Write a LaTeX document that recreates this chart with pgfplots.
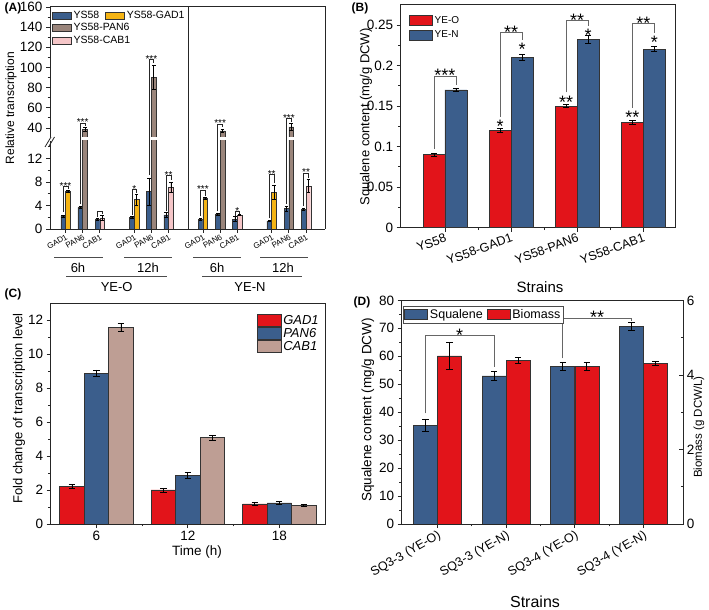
\documentclass[border=0pt]{standalone}
\usepackage{fontspec}
\setmainfont{Liberation Sans}
\usepackage{pgfplots}
\pgfplotsset{compat=1.18}
\definecolor{cblue}{RGB}{59,94,140}
\definecolor{cred}{RGB}{226,20,26}
\definecolor{cyel}{RGB}{245,180,20}
\definecolor{cbrA}{RGB}{154,133,123}
\definecolor{cpink}{RGB}{245,198,200}
\definecolor{cbrC}{RGB}{190,158,148}
\newcommand\fs[1]{\fontsize{#1}{#1}\selectfont}
\newcommand\brk[7]{\draw[brk] (axis cs:#1,#4) |- (axis cs:#2,#5) -- (axis cs:#2,#6); \node[stars] at (axis cs:#3,#5) {#7};}
\pgfplotsset{
  base/.style={scale only axis, anchor=south west, font=\fs{13}, tick align=outside,
    /pgf/number format/assume math mode=true,
    tick label style={font=\fs{13.5}},
    axis line style={black!85, line width=0.8pt},
    every tick/.style={black!85, line width=0.8pt},
    major tick length=4pt, minor tick length=2.5pt,
    clip mode=individual},
  eb/.style={error bars/.cd, y dir=both, y explicit, error mark=-,
    error bar style={line width=0.8pt, black},
    error mark options={rotate=90, line width=0.8pt, black, mark size=3.2pt}},
  ebA/.style={error bars/.cd, y dir=both, y explicit, error mark=-,
    error bar style={line width=0.6pt, black},
    error mark options={rotate=90, line width=0.6pt, black, mark size=1.8pt}},
}
\begin{document}
\begin{tikzpicture}[x=1pt,y=1pt]
\useasboundingbox (0pt,0pt) rectangle (709pt,610pt);
% ================= Panel A =================
\begin{scope}[stars/.style={font=\fs{10}, inner sep=0pt, anchor=south, yshift=-2.9pt},
  brk/.style={black!85, line width=0.6pt}]
\begin{axis}[base, name=Alow, at={(50pt,381pt)}, width=275pt, height=88pt,
  xmin=-0.902, xmax=15.105, ymin=0, ymax=15,
  axis x line*=bottom, axis y line*=left,
  ytick={0,4,8,12}, minor ytick={2,6,10,14},
  xtick={0,1,2,4,5,6,8,9,10,12,13,14},
  xticklabels={GAD1,PAN6,CAB1,GAD1,PAN6,CAB1,GAD1,PAN6,CAB1,GAD1,PAN6,CAB1},
  xticklabel style={rotate=30, anchor=north east, font=\fs{8}, inner sep=0.5pt},
  legend columns=2,
  legend image code/.code={\draw[#1, line width=0.5pt] (0pt,-3.5pt) rectangle (19pt,3.5pt);},
  legend style={at={(axis description cs:0.007,2.50)}, anchor=north west, draw=none, fill=none,
    font=\fs{10.5}, inner sep=0pt, /tikz/every even column/.append style={column sep=4pt}},
  legend cell align=left]
\addlegendimage{fill=cblue, draw=black!80}
\addlegendentry{YS58}
\addlegendimage{fill=cyel, draw=black!80}
\addlegendentry{YS58-GAD1}
\addplot[ybar, bar width=4.7pt, bar shift=0pt, fill=cblue, draw=black!80, line width=0.4pt, forget plot, ebA]
  table[x=x, y=y, y error=e]{
x y e
-0.137 2.2 0.2
0.863 3.7 0.1
1.863 1.65 0.15
3.863 2.0 0.1
4.863 6.4 2.3
5.863 2.4 0.4
7.863 1.7 0.15
8.863 2.5 0.2
9.863 1.7 0.4
11.863 1.35 0.1
12.863 3.5 0.4
13.863 3.4 0.15
};
\addplot[ybar, bar width=4.7pt, bar shift=0pt, fill=cyel, draw=black!80, line width=0.4pt, forget plot, ebA]
  table[x=x, y=y, y error=e]{
x y e
0.137 6.4 0.2
4.137 5.0 0.9
8.137 5.2 0.15
12.137 6.3 1.2
};
\addplot[ybar, bar width=4.7pt, bar shift=0pt, fill=cbrA, draw=black!80, line width=0.4pt, forget plot]
  table[x=x, y=y]{
x y
1.137 38.5
5.137 90
9.137 37
13.137 41
};
\addplot[ybar, bar width=4.7pt, bar shift=0pt, fill=cpink, draw=black!80, line width=0.4pt, forget plot, ebA]
  table[x=x, y=y, y error=e]{
x y e
2.137 1.9 0.5
6.137 7.1 0.9
10.137 2.35 0.1
14.137 7.3 1.1
};
\brk{-0.137}{0.137}{0}{2.9}{7.2}{6.8}{***}
\brk{1.863}{2.137}{2}{2.0}{3.1}{2.6}{}
\brk{3.863}{4.137}{4}{2.4}{6.75}{6.1}{*}
\brk{5.863}{6.137}{6}{3.0}{9.1}{8.3}{**}
\brk{7.863}{8.137}{8}{2.2}{6.6}{5.7}{***}
\brk{9.863}{10.137}{10}{2.3}{3.0}{2.6}{*}
\brk{11.863}{12.137}{12}{1.8}{9.3}{7.8}{**}
\brk{13.863}{14.137}{14}{3.9}{9.5}{8.7}{**}
\draw[brk] (axis cs:0.863,4.2) -- (axis cs:0.863,15);
\draw[brk] (axis cs:4.863,9.2) -- (axis cs:4.863,15);
\draw[brk] (axis cs:8.863,3.0) -- (axis cs:8.863,15);
\draw[brk] (axis cs:12.863,4.3) -- (axis cs:12.863,15);
\coordinate (dvA) at (axis cs:7.13,0);
\end{axis}
\begin{axis}[base, name=Aup, at={(50pt,473pt)}, width=275pt, height=131pt,
  xmin=-0.902, xmax=15.105, ymin=31, ymax=161,
  axis y line*=left, axis x line=none,
  ytick={40,60,80,100,120,140,160}, minor ytick={50,70,90,110,130,150},
  legend image code/.code={\draw[#1, line width=0.5pt] (0pt,-3.5pt) rectangle (19pt,3.5pt);},
  legend style={at={(axis description cs:0.007,0.885)}, anchor=north west, draw=none, fill=none,
    font=\fs{10.5}, inner sep=0pt},
  legend cell align=left]
\addlegendimage{fill=cbrA, draw=black!80}
\addlegendentry{YS58-PAN6}
\addlegendimage{fill=cpink, draw=black!80}
\addlegendentry{YS58-CAB1}
\addplot[ybar, bar width=4.7pt, bar shift=0pt, fill=cbrA, draw=black!80, line width=0.4pt, forget plot, ebA]
  table[x=x, y=y, y error=e]{
x y e
1.137 38.5 2
5.137 90 12
9.137 37 1.5
13.137 41 3.5
};
\brk{0.863}{1.137}{1}{25}{45}{42}{***}
\brk{4.863}{5.137}{5}{25}{108}{104}{***}
\brk{8.863}{9.137}{9}{25}{44}{41}{***}
\brk{12.863}{13.137}{13}{25}{49.5}{46}{***}
\coordinate (dvB) at (axis cs:7.13,161);
\end{axis}
\end{scope}
\draw[black!85, line width=0.8pt] (Alow.south east) -- (Aup.north east) -- (Aup.north west);
\draw[black!85, line width=0.8pt] (dvA) -- (dvB);
\fill[white] (44,469.6) rectangle (56,472.4);
\draw[black!85, line width=0.8pt] (45,463) -- (51,473) (48.5,463) -- (54.5,473);
\node[rotate=90, font=\fs{12}] at (11,502) {Relative transcription};
\begin{scope}[black!70, line width=0.8pt]
\draw (54,352.7) -- (103,352.7) (124,352.7) -- (172,352.7) (193,352.7) -- (241,352.7) (260,352.7) -- (308,352.7);
\draw (66,333.3) -- (167,333.3) (202,333.3) -- (302,333.3);
\end{scope}
\begin{scope}[font=\fs{13}]
\node at (78,342) {6h}; \node at (148,342) {12h};
\node at (217,342) {6h}; \node at (283,342) {12h};
\node at (116.7,323.3) {YE-O}; \node at (250,323.3) {YE-N};
\end{scope}
% ================= Panel B =================
\begin{scope}[stars/.style={font=\fs{18}, inner sep=0pt, anchor=south, yshift=-5.9pt},
  star1/.style={font=\fs{18}, inner sep=0pt, anchor=north},
  brk/.style={black!60, line width=0.8pt}]
\begin{axis}[base, at={(400.7pt,382.3pt)}, width=274.3pt, height=223.7pt,
  xmin=-0.67, xmax=3.48, ymin=0, ymax=0.2759,
  xtick={0,1,2,3}, minor xtick={0.5,1.5,2.5},
  xticklabels={YS58,YS58-GAD1,YS58-PAN6,YS58-CAB1},
  xticklabel style={rotate=20, anchor=north east, font=\fs{12.5}, inner sep=1pt},
  ytick={0,0.05,0.1,0.15,0.2,0.25}, yticklabels={0,0.05,0.1,0.15,0.2,0.25},
  minor ytick={0.025,0.075,0.125,0.175,0.225},
  xtick pos=bottom, ytick pos=left,
  legend image code/.code={\draw[#1, line width=0.6pt] (0pt,-5pt) rectangle (23pt,5pt);},
  legend style={at={(axis description cs:0.030,0.955)}, anchor=north west, draw=none, fill=none,
    font=\fs{10}, inner sep=0pt, row sep=2pt},
  legend cell align=left]
\addplot[ybar, bar width=22pt, bar shift=0pt, fill=cred, draw=black!80, line width=0.6pt, eb]
  table[x=x, y=y, y error=e]{
x y e
-0.166 0.090 0.002
0.834 0.120 0.002
1.834 0.150 0.002
2.834 0.130 0.002
};
\addlegendentry{YE-O}
\addplot[ybar, bar width=22pt, bar shift=0pt, fill=cblue, draw=black!80, line width=0.6pt, eb]
  table[x=x, y=y, y error=e]{
x y e
0.166 0.170 0.002
1.166 0.210 0.004
2.166 0.232 0.005
3.166 0.220 0.003
};
\addlegendentry{YE-N}
\brk{-0.166}{0.166}{0}{0.097}{0.187}{0.176}{***}
\brk{0.834}{1.166}{1}{0.137}{0.2407}{0.2317}{**}
\brk{1.834}{2.166}{2}{0.167}{0.2555}{0.249}{**}
\brk{2.834}{3.166}{3}{0.148}{0.2514}{0.240}{**}
\node[star1] at (axis cs:0.834,0.133) {*};
\node[star1] at (axis cs:1.166,0.2276) {*};
\node[star1] at (axis cs:1.834,0.162) {**};
\node[star1] at (axis cs:2.166,0.245) {*};
\node[star1] at (axis cs:2.834,0.144) {**};
\node[star1] at (axis cs:3.166,0.236) {*};
\end{axis}
\end{scope}
\node[rotate=90, font=\fs{13}] at (366,493) {Squalene content (mg/g DCW)};
\node[font=\fs{15}] at (540,323.3) {Strains};
% ================= Panel C =================
\begin{axis}[base, at={(50.7pt,86pt)}, width=274.3pt, height=221pt,
  xmin=3, xmax=21, ymin=0, ymax=13,
  xtick={6,12,18}, minor xtick={9,15},
  ytick={0,2,4,6,8,10,12}, minor ytick={1,3,5,7,9,11},
  xtick pos=bottom, ytick pos=left,
  legend image code/.code={\draw[#1, line width=0.6pt] (0pt,-6pt) rectangle (24pt,6pt);},
  legend style={at={(axis description cs:0.985,0.955)}, anchor=north east, draw=none, fill=none,
    font=\fs{13}\itshape, inner sep=0pt, row sep=-1.5pt},
  legend cell align=left]
\addplot[ybar, bar width=24.5pt, bar shift=0pt, fill=cred, draw=black!80, line width=0.6pt, eb]
  table[x=x, y=y, y error=e]{
x y e
4.392 2.22 0.12
10.392 2.0 0.12
16.392 1.18 0.08
};
\addlegendentry{GAD1}
\addplot[ybar, bar width=24.5pt, bar shift=0pt, fill=cblue, draw=black!80, line width=0.6pt, eb]
  table[x=x, y=y, y error=e]{
x y e
6 8.88 0.18
12 2.86 0.18
18 1.24 0.1
};
\addlegendentry{PAN6}
\addplot[ybar, bar width=24.5pt, bar shift=0pt, fill=cbrC, draw=black!80, line width=0.6pt, eb]
  table[x=x, y=y, y error=e]{
x y e
7.608 11.57 0.25
13.608 5.08 0.15
19.608 1.08 0.05
};
\addlegendentry{CAB1}
\end{axis}
\node[rotate=90, font=\fs{13}] at (19,201.5) {Fold change of transcription level};
\node[font=\fs{13.5}] at (197,58) {Time (h)};
% ================= Panel D =================
\begin{scope}[stars/.style={font=\fs{18}, inner sep=0pt, anchor=south, yshift=-5.9pt},
  brk/.style={black!60, line width=0.8pt}]
\begin{axis}[base, at={(401.7pt,86pt)}, width=281.6pt, height=223.6pt,
  xmin=-0.52, xmax=3.58, ymin=0, ymax=80,
  xtick={0,1,2,3}, minor xtick={0.5,1.5,2.5},
  xticklabels={SQ3-3 (YE-O),SQ3-3 (YE-N),SQ3-4 (YE-O),SQ3-4 (YE-N)},
  xticklabel style={rotate=30, anchor=north east, font=\fs{12.5}, inner sep=1pt},
  ytick={0,10,20,30,40,50,60,70,80}, minor ytick={5,15,25,35,45,55,65,75},
  xtick pos=bottom, ytick pos=left]
\addplot[ybar, bar width=24pt, bar shift=0pt, fill=cblue, draw=black!80, line width=0.6pt, eb]
  table[x=x, y=y, y error=e]{
x y e
-0.175 35.4 2.2
0.825 53.0 1.6
1.825 56.4 1.5
2.825 70.6 1.4
};
\brk{-0.175}{0.825}{0.325}{39.6}{67.4}{56.3}{*}
\brk{1.825}{2.825}{2.325}{59.3}{73.6}{72.5}{**}
\end{axis}
\begin{axis}[base, at={(401.7pt,86pt)}, width=281.6pt, height=223.6pt,
  xmin=-0.52, xmax=3.58, ymin=0, ymax=6,
  axis y line*=right, axis x line=none, tick align=inside,
  ytick={0,2,4,6}, minor ytick={1,3,5},
  legend columns=2,
  legend image code/.code={\draw[#1, line width=0.6pt] (0pt,-5pt) rectangle (23pt,5pt);},
  legend style={at={(axis description cs:0.005,0.975)}, anchor=north west, draw=black!70, line width=0.5pt,
    fill=white, font=\fs{12.5}, inner sep=1pt, /tikz/every even column/.append style={column sep=2pt}},
  legend cell align=left]
\addlegendimage{fill=cblue, draw=black!80}
\addlegendentry{Squalene}
\addplot[ybar, bar width=24pt, bar shift=0pt, fill=cred, draw=black!80, line width=0.6pt, eb]
  table[x=x, y=y, y error=e]{
x y e
0.175 4.51 0.37
1.175 4.39 0.09
2.175 4.23 0.1
3.175 4.31 0.06
};
\addlegendentry{Biomass}
\end{axis}
\end{scope}
\node[rotate=90, font=\fs{13.5}] at (368,200) {Squalene content (mg/g DCW)};
\node[rotate=90, font=\fs{11.5}] at (699,183) {Biomass (g DCW/L)};
\node[font=\fs{16}] at (535,8) {Strains};
% panel letters
\begin{scope}[font=\fs{12}\bfseries]
\node at (13,602) {(A)};
\node at (360,602) {(B)};
\node at (13,316) {(C)};
\node at (362,308) {(D)};
\end{scope}
\end{tikzpicture}
\end{document}
